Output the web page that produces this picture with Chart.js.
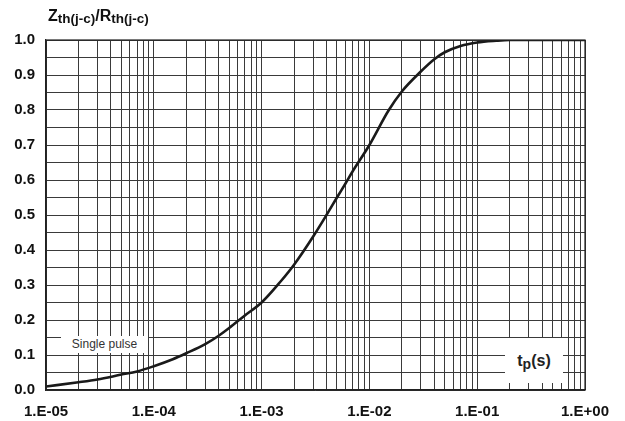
<!DOCTYPE html>
<html>
<head>
<meta charset="utf-8">
<script src="https://cdn.jsdelivr.net/npm/chart.js@4/dist/chart.umd.min.js"></script>
<style>
  html, body { margin: 0; padding: 0; background: #fff; }
  #wrap { position: relative; width: 625px; height: 421px; overflow: hidden; font-family: "Liberation Sans", Arial, sans-serif; }
  canvas { position: absolute; left: 0; top: 0; }
  .title { position: absolute; left: 48px; top: 7px; font-weight: bold; font-size: 16px; color: #111; white-space: nowrap; }
  .title sub { font-size: 13.5px; vertical-align: -2px; }
  .note { position: absolute; background: #fff; color: #333; text-align: center; white-space: nowrap; }
  .note sub { font-size: 14px; vertical-align: -3px; }
</style>
</head>
<body>
<div id="wrap">
  <canvas id="c" width="625" height="421"></canvas>
  <div class="title">Z<sub>th(j-c)</sub>/R<sub>th(j-c)</sub></div>
  <div class="note" style="left:61px; top:336px; width:87px; height:17px; line-height:17px; font-size:12px;">Single pulse</div>
  <div class="note" style="left:505px; top:338px; width:58px; height:45px; line-height:45px; font-size:16px; font-weight:bold; color:#222;">t<sub>p</sub>(s)</div>
</div>
<script>
// ---- data ----
const timeValues = [1e-5, 2e-5, 3e-5, 5e-5, 7e-5, 1e-4, 1.5e-4, 2e-4, 3e-4, 4e-4, 5e-4, 7e-4,
                    1e-3, 1.5e-3, 2e-3, 3e-3, 4e-3, 5e-3, 6e-3, 7e-3, 1e-2, 1.5e-2, 2e-2,
                    3e-2, 4e-2, 5e-2, 7e-2, 1e-1, 1.5e-1, 2e-1, 1];
const zthValues  = [0.010, 0.022, 0.030, 0.044, 0.053, 0.068, 0.088, 0.105, 0.131, 0.155, 0.177, 0.213,
                    0.250, 0.310, 0.358, 0.438, 0.500, 0.550, 0.590, 0.625, 0.700, 0.798, 0.853,
                    0.910, 0.945, 0.965, 0.983, 0.993, 0.998, 1.000, 1.000];
const xDecades = [1e-5, 1e-4, 1e-3, 1e-2, 1e-1, 1];
const xTickLabels = ['1.E-05', '1.E-04', '1.E-03', '1.E-02', '1.E-01', '1.E+00'];
const yTickLabels = ['0.0', '0.1', '0.2', '0.3', '0.4', '0.5', '0.6', '0.7', '0.8', '0.9', '1.0'];

// grid tick values: 1..9 x each decade
const xGridTicks = [];
for (let d = 0; d < xDecades.length - 1; d++) {
  for (let m = 1; m <= 9; m++) xGridTicks.push(m * xDecades[d]);
}
xGridTicks.push(xDecades[xDecades.length - 1]);

const points = timeValues.map((t, i) => ({ x: t, y: zthValues[i] }));

const tickFont = { family: '"Liberation Sans", Arial, sans-serif', size: 15, weight: 'bold' };

new Chart(document.getElementById('c'), {
  type: 'line',
  data: {
    datasets: [{
      data: points,
      borderColor: '#1a1a1a',
      borderWidth: 2.6,
      pointRadius: 0,
      cubicInterpolationMode: 'monotone',
      fill: false
    }]
  },
  options: {
    responsive: false,
    animation: false,
    layout: { padding: { left: 0, right: 40, top: 40, bottom: 0 } },
    plugins: { legend: { display: false }, tooltip: { enabled: false } },
    scales: {
      x: {
        type: 'logarithmic',
        min: 1e-5,
        max: 1,
        afterBuildTicks: (scale) => { scale.ticks = xGridTicks.map(v => ({ value: v })); },
        afterFit: (scale) => { scale.height = 31; },
        grid: { color: '#3a3a3a', lineWidth: 1, drawTicks: false },
        border: { display: true, color: '#222', width: 1.2 },
        ticks: {
          autoSkip: false,
          maxRotation: 0,
          minRotation: 0,
          padding: 13,
          color: '#111',
          font: tickFont,
          callback: (value) => {
            const i = xDecades.findIndex(d => Math.abs(value / d - 1) < 1e-6);
            return i >= 0 ? xTickLabels[i] : '';
          }
        }
      },
      y: {
        type: 'linear',
        min: 0,
        max: 1,
        afterFit: (scale) => { scale.width = 46; },
        grid: { color: '#3a3a3a', lineWidth: 1, drawTicks: false },
        border: { display: true, color: '#222', width: 1.2 },
        ticks: {
          stepSize: 0.05,
          autoSkip: false,
          padding: 11,
          color: '#111',
          font: tickFont,
          callback: (value) => {
            const k = Math.round(value * 20);
            return k % 2 === 0 ? yTickLabels[k / 2] : '';
          }
        }
      }
    }
  },
  plugins: [{
    id: 'frame',
    afterDraw(chart) {
      const { ctx, chartArea: a } = chart;
      ctx.save();
      ctx.strokeStyle = '#222';
      ctx.lineWidth = 1.2;
      ctx.strokeRect(a.left, a.top, a.right - a.left, a.bottom - a.top);
      ctx.restore();
    }
  }]
});
</script>
</body>
</html>
